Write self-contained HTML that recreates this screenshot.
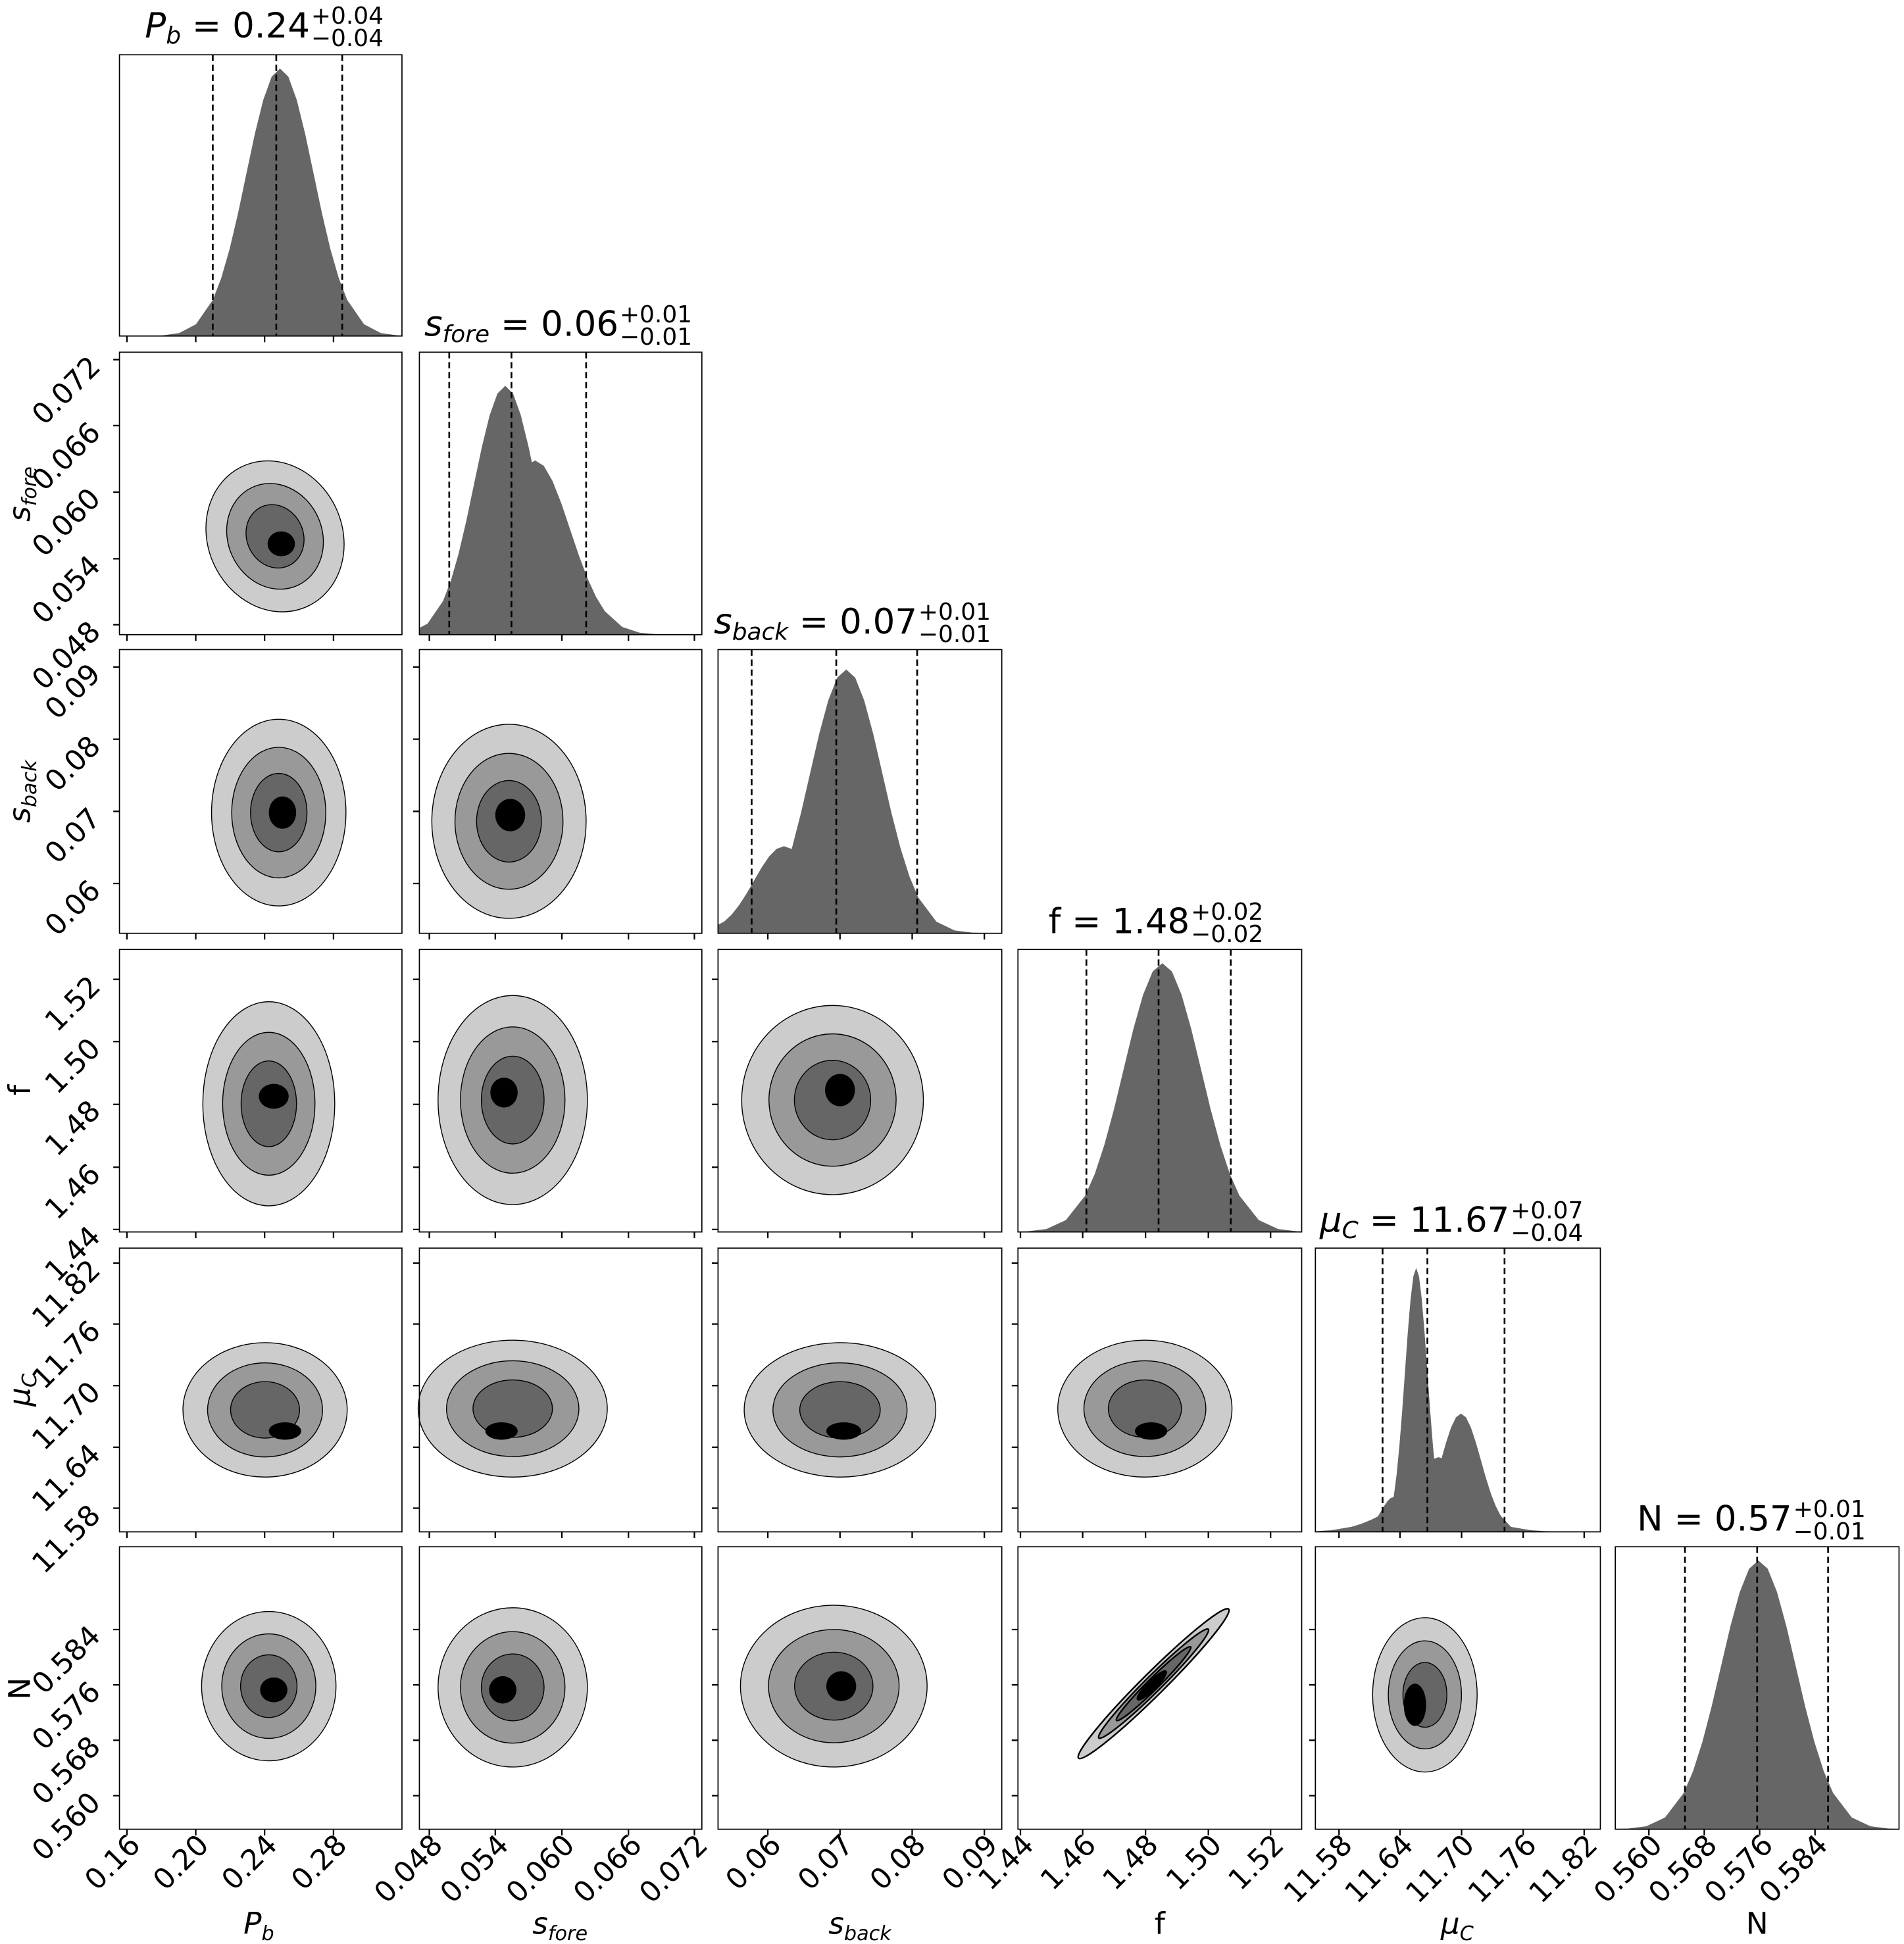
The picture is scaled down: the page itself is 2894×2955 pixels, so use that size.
<!DOCTYPE html>
<html><head><meta charset="utf-8"><style>html,body{margin:0;padding:0;background:#fff}svg{display:block}</style></head>
<body>
<svg xmlns="http://www.w3.org/2000/svg" width="2894" height="2955" viewBox="0 0 1530 1562.2" font-family="'DejaVu Sans','Liberation Sans',sans-serif">
<defs>
<path id="g" d="M-5,0 L-4,0.0003 L-3.5,0.0022 L-3,0.011 L-2.5,0.044 L-2,0.135 L-1.75,0.216 L-1.5,0.325 L-1.25,0.458 L-1,0.607 L-0.75,0.755 L-0.5,0.882 L-0.25,0.969 L0,1 L0.25,0.969 L0.5,0.882 L0.75,0.755 L1,0.607 L1.25,0.458 L1.5,0.325 L1.75,0.216 L2,0.135 L2.5,0.044 L3,0.011 L3.5,0.0022 L4,0.0003 L5,0 Z"/>
<g id="c4" stroke="#000" stroke-width="1.4">
<ellipse rx="1" ry="1" fill="#cccccc" vector-effect="non-scaling-stroke"/>
<ellipse rx="0.7" ry="0.7" fill="#999999" vector-effect="non-scaling-stroke"/>
<ellipse rx="0.42" ry="0.42" fill="#666666" vector-effect="non-scaling-stroke"/>
</g>
<clipPath id="k0"><rect x="96" y="44" width="227" height="226"/></clipPath>
<clipPath id="k1"><rect x="337" y="283" width="227" height="227"/></clipPath>
<clipPath id="k2"><rect x="577" y="522" width="228" height="228"/></clipPath>
<clipPath id="k3"><rect x="818" y="763" width="228" height="227"/></clipPath>
<clipPath id="k4"><rect x="1057" y="1003" width="229" height="228"/></clipPath>
<clipPath id="k5"><rect x="1298" y="1243" width="228" height="227"/></clipPath>
</defs>

<!-- Histograms -->
<g fill="#666666">
<g clip-path="url(#k0)"><use href="#g" transform="translate(225,270) scale(27,-215)"/></g>
<g clip-path="url(#k1)"><use href="#g" transform="translate(406,510) scale(25,-200)"/><use href="#g" transform="translate(430,510) scale(28,-140)"/></g>
<g clip-path="url(#k2)"><use href="#g" transform="translate(680,750) scale(29,-212)"/><use href="#g" transform="translate(630,750) scale(24,-70)"/></g>
<g clip-path="url(#k3)"><use href="#g" transform="translate(934,990) scale(31,-216)"/><use href="#g" transform="translate(900,990) scale(22,-60)"/></g>
<g clip-path="url(#k4)"><use href="#g" transform="translate(1138,1231) scale(9,-212)"/><use href="#g" transform="translate(1174,1231) scale(16,-95)"/><use href="#g" transform="translate(1156,1231) scale(22,-60)"/><use href="#g" transform="translate(1150,1231) scale(32,-30)"/><use href="#g" transform="translate(1120,1231) scale(10,-28)"/></g>
<g clip-path="url(#k5)"><use href="#g" transform="translate(1413,1470) scale(30,-216)"/><use href="#g" transform="translate(1385,1470) scale(20,-50)"/></g>
</g>

<!-- dashed lines -->
<g stroke="#000" stroke-width="1.4" stroke-dasharray="5,3">
<line x1="171" y1="44" x2="171" y2="270"/><line x1="222" y1="44" x2="222" y2="270"/><line x1="275" y1="44" x2="275" y2="270"/>
<line x1="361" y1="283" x2="361" y2="510"/><line x1="411" y1="283" x2="411" y2="510"/><line x1="471" y1="283" x2="471" y2="510"/>
<line x1="604" y1="522" x2="604" y2="750"/><line x1="672" y1="522" x2="672" y2="750"/><line x1="737" y1="522" x2="737" y2="750"/>
<line x1="873" y1="763" x2="873" y2="990"/><line x1="931" y1="763" x2="931" y2="990"/><line x1="989" y1="763" x2="989" y2="990"/>
<line x1="1111" y1="1003" x2="1111" y2="1231"/><line x1="1147" y1="1003" x2="1147" y2="1231"/><line x1="1209" y1="1003" x2="1209" y2="1231"/>
<line x1="1354" y1="1243" x2="1354" y2="1470"/><line x1="1412" y1="1243" x2="1412" y2="1470"/><line x1="1469" y1="1243" x2="1469" y2="1470"/>
</g>

<!-- Contours -->
<g>
<use href="#c4" transform="translate(221,431) rotate(-25) scale(54,62)"/>
<ellipse cx="226" cy="437" rx="11" ry="10" fill="#000"/>

<use href="#c4" transform="translate(224,653) scale(54,75)"/>
<ellipse cx="227" cy="653" rx="11" ry="13" fill="#000"/>
<use href="#c4" transform="translate(409,660) scale(62,78)"/>
<ellipse cx="410" cy="655" rx="12" ry="13" fill="#000"/>

<use href="#c4" transform="translate(216,887) scale(53,82)"/>
<ellipse cx="220" cy="881" rx="12" ry="10" fill="#000"/>
<use href="#c4" transform="translate(412,884) scale(60,84)"/>
<ellipse cx="405" cy="878" rx="11" ry="12" fill="#000"/>
<use href="#c4" transform="translate(669,884) scale(73,76)"/>
<ellipse cx="675" cy="876" rx="12" ry="13" fill="#000"/>

<use href="#c4" transform="translate(213,1133) scale(66,54)"/>
<ellipse cx="229" cy="1150" rx="13" ry="7" fill="#000"/>
<use href="#c4" transform="translate(412,1132) scale(76,55)"/>
<ellipse cx="403" cy="1150" rx="13" ry="7" fill="#000"/>
<use href="#c4" transform="translate(675,1133) scale(77,54)"/>
<ellipse cx="678" cy="1150" rx="14" ry="7" fill="#000"/>
<use href="#c4" transform="translate(920,1132) scale(70,55)"/>
<ellipse cx="925" cy="1150" rx="13" ry="7" fill="#000"/>

<use href="#c4" transform="translate(216,1355) scale(54,60)"/>
<ellipse cx="220" cy="1358" rx="11" ry="10" fill="#000"/>
<use href="#c4" transform="translate(412,1356) scale(60,64)"/>
<ellipse cx="404" cy="1358" rx="11" ry="11" fill="#000"/>
<use href="#c4" transform="translate(670,1355) scale(75,65)"/>
<ellipse cx="676" cy="1355" rx="12" ry="12" fill="#000"/>
<g transform="translate(927,1353) rotate(-44.8)" stroke="#000" stroke-width="1.3">
<ellipse rx="85" ry="9" fill="#cccccc"/><ellipse rx="62" ry="6.5" fill="#999999"/><ellipse rx="42" ry="4.5" fill="#666666"/><ellipse cx="-2" rx="16" ry="3.5" fill="#000"/>
</g>
<use href="#c4" transform="translate(1145,1362) scale(42,62)"/>
<ellipse cx="1137" cy="1370" rx="9" ry="17" fill="#000"/>
</g>

<!-- Frames -->
<g fill="none" stroke="#000" stroke-width="0.9">
<rect x="96" y="44" width="227" height="226"/>
<rect x="96" y="283" width="227" height="227"/><rect x="337" y="283" width="227" height="227"/>
<rect x="96" y="522" width="227" height="228"/><rect x="337" y="522" width="227" height="228"/><rect x="577" y="522" width="228" height="228"/>
<rect x="96" y="763" width="227" height="227"/><rect x="337" y="763" width="227" height="227"/><rect x="577" y="763" width="228" height="227"/><rect x="818" y="763" width="228" height="227"/>
<rect x="96" y="1003" width="227" height="228"/><rect x="337" y="1003" width="227" height="228"/><rect x="577" y="1003" width="228" height="228"/><rect x="818" y="1003" width="228" height="228"/><rect x="1057" y="1003" width="229" height="228"/>
<rect x="96" y="1243" width="227" height="227"/><rect x="337" y="1243" width="227" height="227"/><rect x="577" y="1243" width="228" height="227"/><rect x="818" y="1243" width="228" height="227"/><rect x="1057" y="1243" width="229" height="227"/><rect x="1298" y="1243" width="228" height="227"/>
</g>

<!-- ticks -->
<g stroke="#000" stroke-width="1.2">
<path d="M102,270v5M157.3,270v5M212.6,270v5M268,270v5
M102,510v5M157.3,510v5M212.6,510v5M268,510v5M345,510v5M398,510v5M451.5,510v5M505,510v5M558,510v5
M102,750v5M157.3,750v5M212.6,750v5M268,750v5M345,750v5M398,750v5M451.5,750v5M505,750v5M558,750v5M617,750v5M675,750v5M733,750v5M791,750v5
M102,990v5M157.3,990v5M212.6,990v5M268,990v5M345,990v5M398,990v5M451.5,990v5M505,990v5M558,990v5M617,990v5M675,990v5M733,990v5M791,990v5M820,990v5M870,990v5M920.5,990v5M971,990v5M1021,990v5
M102,1231v5M157.3,1231v5M212.6,1231v5M268,1231v5M345,1231v5M398,1231v5M451.5,1231v5M505,1231v5M558,1231v5M617,1231v5M675,1231v5M733,1231v5M791,1231v5M820,1231v5M870,1231v5M920.5,1231v5M971,1231v5M1021,1231v5M1076,1231v5M1125,1231v5M1174.5,1231v5M1224,1231v5M1273,1231v5
M102,1470v5M157.3,1470v5M212.6,1470v5M268,1470v5M345,1470v5M398,1470v5M451.5,1470v5M505,1470v5M558,1470v5M617,1470v5M675,1470v5M733,1470v5M791,1470v5M820,1470v5M870,1470v5M920.5,1470v5M971,1470v5M1021,1470v5M1076,1470v5M1125,1470v5M1174.5,1470v5M1224,1470v5M1273,1470v5M1325,1470v5M1369.5,1470v5M1414,1470v5M1458.5,1470v5"/>
<path d="M96,289h-5M96,342h-5M96,395.5h-5M96,449h-5M96,502h-5
M96,536h-5M96,594h-5M96,652h-5M96,710h-5M337,536h-5M337,594h-5M337,652h-5M337,710h-5
M96,787h-5M96,837h-5M96,887.5h-5M96,938h-5M96,988h-5M337,787h-5M337,837h-5M337,887.5h-5M337,938h-5M337,988h-5M577,787h-5M577,837h-5M577,887.5h-5M577,938h-5M577,988h-5
M96,1015h-5M96,1064h-5M96,1113.5h-5M96,1163h-5M96,1212h-5M337,1015h-5M337,1064h-5M337,1113.5h-5M337,1163h-5M337,1212h-5M577,1015h-5M577,1064h-5M577,1113.5h-5M577,1163h-5M577,1212h-5M818,1015h-5M818,1064h-5M818,1113.5h-5M818,1163h-5M818,1212h-5
M96,1309.5h-5M96,1354h-5M96,1398.5h-5M96,1443h-5M337,1309.5h-5M337,1354h-5M337,1398.5h-5M337,1443h-5M577,1309.5h-5M577,1354h-5M577,1398.5h-5M577,1443h-5M818,1309.5h-5M818,1354h-5M818,1398.5h-5M818,1443h-5M1057,1309.5h-5M1057,1354h-5M1057,1398.5h-5M1057,1443h-5"/>
</g>

<!-- Bottom tick labels -->
<g font-size="23" text-anchor="end" fill="#000">
<text transform="translate(114,1484) rotate(-45)">0.16</text>
<text transform="translate(169,1484) rotate(-45)">0.20</text>
<text transform="translate(224,1484) rotate(-45)">0.24</text>
<text transform="translate(280,1484) rotate(-45)">0.28</text>
<text transform="translate(357,1484) rotate(-45)">0.048</text>
<text transform="translate(410,1484) rotate(-45)">0.054</text>
<text transform="translate(463,1484) rotate(-45)">0.060</text>
<text transform="translate(517,1484) rotate(-45)">0.066</text>
<text transform="translate(570,1484) rotate(-45)">0.072</text>
<text transform="translate(629,1484) rotate(-45)">0.06</text>
<text transform="translate(687,1484) rotate(-45)">0.07</text>
<text transform="translate(745,1484) rotate(-45)">0.08</text>
<text transform="translate(803,1484) rotate(-45)">0.09</text>
<text transform="translate(832,1484) rotate(-45)">1.44</text>
<text transform="translate(882,1484) rotate(-45)">1.46</text>
<text transform="translate(932,1484) rotate(-45)">1.48</text>
<text transform="translate(983,1484) rotate(-45)">1.50</text>
<text transform="translate(1033,1484) rotate(-45)">1.52</text>
<text transform="translate(1088,1484) rotate(-45)">11.58</text>
<text transform="translate(1137,1484) rotate(-45)">11.64</text>
<text transform="translate(1186,1484) rotate(-45)">11.70</text>
<text transform="translate(1236,1484) rotate(-45)">11.76</text>
<text transform="translate(1285,1484) rotate(-45)">11.82</text>
<text transform="translate(1337,1484) rotate(-45)">0.560</text>
<text transform="translate(1381,1484) rotate(-45)">0.568</text>
<text transform="translate(1426,1484) rotate(-45)">0.576</text>
<text transform="translate(1470,1484) rotate(-45)">0.584</text>
</g>
<!-- Left tick labels -->
<g font-size="23" text-anchor="end" fill="#000">
<text transform="translate(82,296) rotate(-45)">0.072</text>
<text transform="translate(82,349) rotate(-45)">0.066</text>
<text transform="translate(82,402) rotate(-45)">0.060</text>
<text transform="translate(82,456) rotate(-45)">0.054</text>
<text transform="translate(82,509) rotate(-45)">0.048</text>
<text transform="translate(82,543) rotate(-45)">0.09</text>
<text transform="translate(82,601) rotate(-45)">0.08</text>
<text transform="translate(82,659) rotate(-45)">0.07</text>
<text transform="translate(82,717) rotate(-45)">0.06</text>
<text transform="translate(82,794) rotate(-45)">1.52</text>
<text transform="translate(82,844) rotate(-45)">1.50</text>
<text transform="translate(82,894) rotate(-45)">1.48</text>
<text transform="translate(82,945) rotate(-45)">1.46</text>
<text transform="translate(82,995) rotate(-45)">1.44</text>
<text transform="translate(82,1022) rotate(-45)">11.82</text>
<text transform="translate(82,1071) rotate(-45)">11.76</text>
<text transform="translate(82,1120) rotate(-45)">11.70</text>
<text transform="translate(82,1170) rotate(-45)">11.64</text>
<text transform="translate(82,1219) rotate(-45)">11.58</text>
<text transform="translate(82,1316) rotate(-45)">0.584</text>
<text transform="translate(82,1361) rotate(-45)">0.576</text>
<text transform="translate(82,1405) rotate(-45)">0.568</text>
<text transform="translate(82,1450) rotate(-45)">0.560</text>
</g>

<!-- Axis labels -->
<g font-size="24" fill="#000" text-anchor="middle">
<text x="208" y="1554"><tspan font-style="italic">P</tspan><tspan font-style="italic" font-size="16" dy="5">b</tspan></text>
<text x="450" y="1554"><tspan font-style="italic">s</tspan><tspan font-style="italic" font-size="16" dy="5">fore</tspan></text>
<text x="691" y="1554"><tspan font-style="italic">s</tspan><tspan font-style="italic" font-size="16" dy="5">back</tspan></text>
<text x="932" y="1554">f</text>
<text x="1171" y="1554"><tspan font-style="italic">μ</tspan><tspan font-style="italic" font-size="16" dy="5">C</tspan></text>
<text x="1412" y="1554">N</text>
<text transform="translate(24,397) rotate(-90)"><tspan font-style="italic">s</tspan><tspan font-style="italic" font-size="16" dy="5">fore</tspan></text>
<text transform="translate(24,636) rotate(-90)"><tspan font-style="italic">s</tspan><tspan font-style="italic" font-size="16" dy="5">back</tspan></text>
<text transform="translate(24,876) rotate(-90)">f</text>
<text transform="translate(24,1117) rotate(-90)"><tspan font-style="italic">μ</tspan><tspan font-style="italic" font-size="16" dy="5">C</tspan></text>
<text transform="translate(24,1357) rotate(-90)">N</text>
</g>

<!-- Titles -->
<g fill="#000">
<text x="249" y="30" font-size="28" text-anchor="end"><tspan font-style="italic">P</tspan><tspan font-style="italic" font-size="19" dy="5">b</tspan><tspan dy="-5"> = 0.24</tspan></text>
<text x="250" y="19" font-size="19">+0.04</text><text x="250" y="37" font-size="19">−0.04</text>

<text x="497" y="270" font-size="28" text-anchor="end"><tspan font-style="italic">s</tspan><tspan font-style="italic" font-size="19" dy="5">fore</tspan><tspan dy="-5"> = 0.06</tspan></text>
<text x="498" y="259" font-size="19">+0.01</text><text x="498" y="277" font-size="19">−0.01</text>

<text x="737" y="509" font-size="28" text-anchor="end"><tspan font-style="italic">s</tspan><tspan font-style="italic" font-size="19" dy="5">back</tspan><tspan dy="-5"> = 0.07</tspan></text>
<text x="738" y="498" font-size="19">+0.01</text><text x="738" y="516" font-size="19">−0.01</text>

<text x="956" y="750" font-size="28" text-anchor="end">f = 1.48</text>
<text x="957" y="739" font-size="19">+0.02</text><text x="957" y="757" font-size="19">−0.02</text>

<text x="1213" y="990" font-size="28" text-anchor="end"><tspan font-style="italic">μ</tspan><tspan font-style="italic" font-size="19" dy="5">C</tspan><tspan dy="-5"> = 11.67</tspan></text>
<text x="1214" y="979" font-size="19">+0.07</text><text x="1214" y="997" font-size="19">−0.04</text>

<text x="1440" y="1230" font-size="28" text-anchor="end">N = 0.57</text>
<text x="1441" y="1219" font-size="19">+0.01</text><text x="1441" y="1237" font-size="19">−0.01</text>
</g>
</svg>
</body></html>
